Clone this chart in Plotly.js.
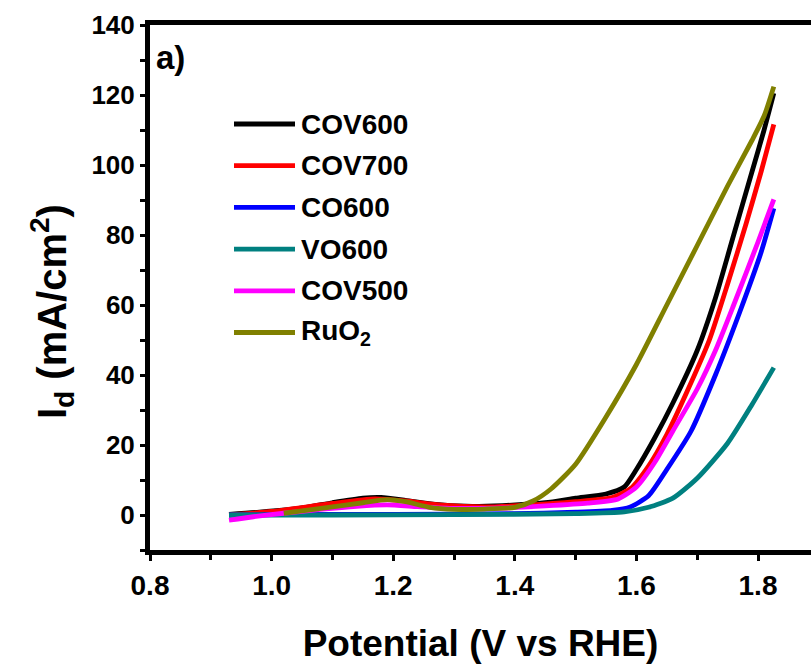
<!DOCTYPE html>
<html>
<head>
<meta charset="utf-8">
<script src="https://cdn.plot.ly/plotly-3.0.1.min.js"></script>
<style>html,body{margin:0;padding:0;overflow:hidden;background:#fff;}</style>
</head>
<body>
<div id="chart" style="width:811px;height:664px;"></div>
<script>
// ---- Data ----
var seriesNames = ["COV600", "COV700", "CO600", "VO600", "COV500", "RuO<sub>2</sub>"];
var seriesColors = ["#000000", "#ff0000", "#0000ff", "#008080", "#ff00ff", "#808000"];

var cov600X = [0.93, 0.98, 1.05, 1.10, 1.15, 1.18, 1.22, 1.27, 1.32, 1.38, 1.45, 1.50, 1.55, 1.58, 1.60, 1.63, 1.66, 1.70, 1.73, 1.76, 1.79, 1.81, 1.826];
var cov600Y = [0.2, 0.8, 2.0, 3.5, 4.8, 5.0, 4.2, 3.0, 2.5, 2.7, 3.5, 4.8, 6.0, 8.0, 13, 22, 32, 47, 62, 80, 98, 110, 120.5];

var cov700X = [0.93, 1.00, 1.10, 1.17, 1.22, 1.28, 1.35, 1.42, 1.50, 1.56, 1.59, 1.62, 1.65, 1.68, 1.72, 1.75, 1.78, 1.805, 1.826];
var cov700Y = [0.0, 1.0, 3.3, 4.6, 4.0, 2.8, 2.3, 2.8, 3.8, 5.0, 7.5, 14, 23, 34, 50, 66, 83, 98, 111.6];

var co600X = [0.93, 1.00, 1.20, 1.40, 1.50, 1.56, 1.59, 1.62, 1.65, 1.69, 1.73, 1.77, 1.805, 1.826];
var co600Y = [0.0, 0.1, 0.2, 0.4, 0.8, 1.3, 2.3, 5.5, 13, 24, 40, 58, 75, 87.6];

var vo600X = [0.93, 1.10, 1.30, 1.50, 1.58, 1.62, 1.66, 1.70, 1.75, 1.79, 1.826];
var vo600Y = [0.0, 0.0, 0.1, 0.4, 0.9, 2.2, 4.8, 10.5, 20.5, 31.5, 42.1];

var cov500X = [0.93, 0.97, 1.02, 1.08, 1.14, 1.19, 1.24, 1.30, 1.38, 1.45, 1.52, 1.57, 1.60, 1.63, 1.66, 1.70, 1.73, 1.76, 1.80, 1.826];
var cov500Y = [-1.5, -0.5, 0.5, 1.6, 2.5, 2.9, 2.4, 1.9, 2.0, 2.6, 3.4, 4.6, 8.0, 15, 24, 36, 47, 60, 78, 90.2];

var ruo2X = [1.02, 1.05, 1.10, 1.15, 1.19, 1.22, 1.26, 1.30, 1.35, 1.40, 1.43, 1.46, 1.50, 1.55, 1.60, 1.65, 1.70, 1.75, 1.79, 1.81, 1.826];
var ruo2Y = [0.5, 1.2, 2.3, 3.5, 4.4, 3.8, 2.2, 1.6, 1.7, 2.2, 4.0, 7.5, 14.5, 28, 43, 60, 77, 94, 107, 114, 122.4];

var xTickVals = [0.8, 1.0, 1.2, 1.4, 1.6, 1.8];
var xTickText = ["0.8", "1.0", "1.2", "1.4", "1.6", "1.8"];
var yTickVals = [0, 20, 40, 60, 80, 100, 120, 140];
var yTickText = ["0", "20", "40", "60", "80", "100", "120", "140"];

var xs = [cov600X, cov700X, co600X, vo600X, cov500X, ruo2X];
var ys = [cov600Y, cov700Y, co600Y, vo600Y, cov500Y, ruo2Y];

// ---- Layout geometry ----
var W = 811, H = 664;
var M = {l: 150, r: 0, t: 25, b: 114};
var PW = W - M.l - M.r, PH = H - M.t - M.b;
function px(x) { return (x - M.l) / PW; }
function py(y) { return (H - M.b - y) / PH; }

var FONT = "Liberation Sans, Arial, Helvetica, sans-serif";

var traces = [];
for (var i = 0; i < seriesNames.length; i++) {
  traces.push({
    x: xs[i], y: ys[i], name: seriesNames[i], type: "scatter", mode: "lines",
    line: {color: seriesColors[i], width: 4.8, shape: "spline", smoothing: 0.6},
    showlegend: false, hoverinfo: "skip"
  });
}

// manual legend (long line samples like the reference)
var shapes = [], annotations = [];
var legendTop = 124, legendStep = 41.7;
for (var j = 0; j < seriesNames.length; j++) {
  var yy = legendTop + j * legendStep;
  shapes.push({type: "line", xref: "paper", yref: "paper",
    x0: px(234), x1: px(295), y0: py(yy), y1: py(yy),
    line: {color: seriesColors[j], width: 4.8}});
  annotations.push({xref: "paper", yref: "paper", x: px(299), y: py(yy),
    xanchor: "left", yanchor: "middle", showarrow: false,
    text: "<b>" + seriesNames[j] + "</b>",
    font: {family: FONT, size: 28, color: "#000"}});
}
annotations.push({xref: "paper", yref: "paper", x: px(154), y: py(58),
  xanchor: "left", yanchor: "middle", showarrow: false, text: "<b>a)</b>",
  font: {family: FONT, size: 33, color: "#000"}});
annotations.push({xref: "paper", yref: "paper", x: px(52), y: py(312),
  xanchor: "center", yanchor: "middle", showarrow: false, textangle: -90,
  text: "<b>I<sub>d</sub> (mA/cm<sup>2</sup>)</b>",
  font: {family: FONT, size: 40, color: "#000"}});

var layout = {
  width: W, height: H,
  margin: M,
  paper_bgcolor: "#fff", plot_bgcolor: "#fff",
  showlegend: false,
  font: {family: FONT, color: "#000"},
  xaxis: {
    range: [0.8, 0.8 + PW / 608],
    tickvals: xTickVals, ticktext: xTickText,
    ticks: "outside", ticklen: 6, tickwidth: 3, tickcolor: "#000",
    minor: {dtick: 0.1, tick0: 0.8, ticks: "outside", ticklen: 5, tickwidth: 3, tickcolor: "#000"},
    showline: true, linewidth: 5, linecolor: "#000", mirror: true,
    showgrid: false, zeroline: false,
    tickfont: {family: FONT, size: 28, color: "#000", weight: "bold"},
    title: {text: "<b>Potential (V vs RHE)</b>", font: {family: FONT, size: 37, color: "#000"}, standoff: 38}
  },
  yaxis: {
    range: [-10, 140],
    tickvals: yTickVals, ticktext: yTickText,
    ticks: "outside", ticklen: 5, tickwidth: 3, tickcolor: "#000",
    minor: {dtick: 10, tick0: 0, ticks: "outside", ticklen: 5, tickwidth: 3, tickcolor: "#000"},
    showline: true, linewidth: 5, linecolor: "#000", mirror: false,
    showgrid: false, zeroline: false,
    tickfont: {family: FONT, size: 26, color: "#000", weight: "bold"}
  },
  shapes: shapes,
  annotations: annotations
};

Plotly.newPlot("chart", traces, layout, {staticPlot: true, displayModeBar: false});
</script>
</body>
</html>
